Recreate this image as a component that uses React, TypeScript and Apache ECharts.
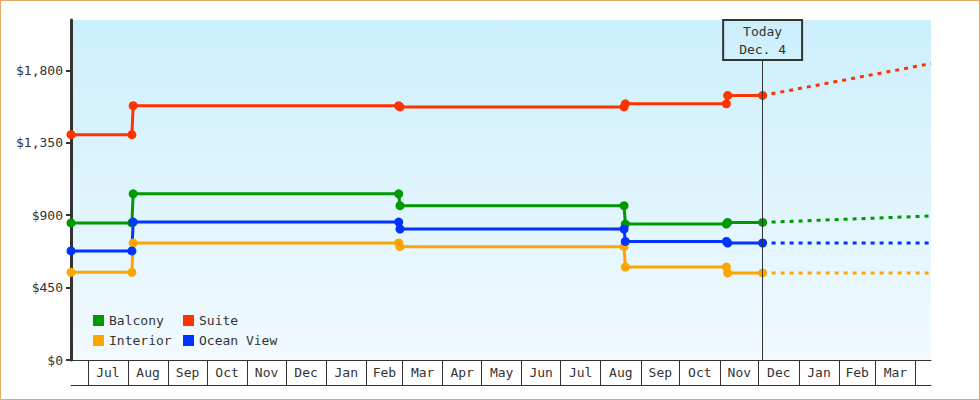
import React, { useEffect, useRef } from "react";
import * as echarts from "echarts";

const FONT = "'DejaVu Sans Mono', monospace";
const TEXT_COLOR = "#333333";

// ---- data ----
const PRICE_DATES = [
  "2012-06-18", "2012-08-04", "2012-08-05", "2013-02-26", "2013-02-27",
  "2013-08-19", "2013-08-20", "2013-11-06", "2013-11-07", "2013-12-04",
];
const balcony = [852, 852, 1033, 1033, 959, 959, 845, 845, 855, 855];
const interior = [545, 545, 727, 727, 704, 704, 578, 578, 541, 541];
const suite = [1400, 1400, 1580, 1580, 1573, 1573, 1592, 1592, 1644, 1644];
const oceanView = [678, 678, 857, 857, 814, 814, 737, 737, 727, 727];

const PROJ_DATES = ["2013-12-04", "2014-04-13"];
const balconyProj = [855, 895];
const interiorProj = [541, 541];
const suiteProj = [1644, 1842];
const oceanViewProj = [727, 727];

const X_MIN = "2012-06-18";
const X_MAX = "2014-04-13";
const TODAY = "2013-12-04";
const TODAY_LABEL = "Today\nDec. 4";

const MONTH_STARTS = [
  "2012-07-01", "2012-08-01", "2012-09-01", "2012-10-01", "2012-11-01", "2012-12-01",
  "2013-01-01", "2013-02-01", "2013-03-01", "2013-04-01", "2013-05-01", "2013-06-01",
  "2013-07-01", "2013-08-01", "2013-09-01", "2013-10-01", "2013-11-01", "2013-12-01",
  "2014-01-01", "2014-02-01", "2014-03-01", "2014-04-01",
];
const MONTH_LABELS = [
  "Jul", "Aug", "Sep", "Oct", "Nov", "Dec", "Jan", "Feb", "Mar", "Apr", "May",
  "Jun", "Jul", "Aug", "Sep", "Oct", "Nov", "Dec", "Jan", "Feb", "Mar",
];

const Y_TICKS = [0, 450, 900, 1350, 1800];
const Y_MAX = 2113;

const COLORS: Record<string, string> = {
  Balcony: "#009900",
  Interior: "#ffa500",
  Suite: "#ff3300",
  "Ocean View": "#0033ff",
};

// ---- helpers ----
const DAY = 86400000;
function ts(s: string): number {
  const [y, m, d] = s.split("-").map(Number);
  return Date.UTC(y, m - 1, d);
}

function pairs(dates: string[], vals: number[]) {
  return dates.map((d, i) => [ts(d), vals[i]]);
}

export default function App() {
  const ref = useRef<HTMLDivElement>(null);

  useEffect(() => {
    if (!ref.current) return;
    const chart = echarts.init(ref.current, undefined, { renderer: "svg" });

    const monthTs = MONTH_STARTS.map(ts);
    const mids = MONTH_LABELS.map((_, i) => (monthTs[i] + monthTs[i + 1]) / 2);
    const labelFor = (v: number) => {
      let best = -1;
      let bestD = Infinity;
      mids.forEach((m, i) => {
        const d = Math.abs(m - v);
        if (d < bestD) {
          bestD = d;
          best = i;
        }
      });
      return best >= 0 && bestD < DAY ? MONTH_LABELS[best] : "";
    };

    const gridHeight = 340;
    const boxHeight = 40;
    const boxBottomValue = Y_MAX * (1 - boxHeight / gridHeight);

    const mainSeries = (name: string, vals: number[], extra: any = {}) => ({
      type: "line",
      name,
      data: pairs(PRICE_DATES, vals),
      color: COLORS[name],
      symbol: "circle",
      symbolSize: 9,
      showSymbol: true,
      showAllSymbol: true,
      lineStyle: { width: 3, color: COLORS[name] },
      itemStyle: { color: COLORS[name] },
      emphasis: { disabled: true },
      silent: true,
      ...extra,
    });
    const projSeries = (name: string, vals: number[]) => ({
      type: "line",
      name,
      data: pairs(PROJ_DATES, vals),
      color: COLORS[name],
      symbol: "none",
      showSymbol: false,
      lineStyle: { width: 3, color: COLORS[name], type: [4, 5] },
      emphasis: { disabled: true },
      silent: true,
    });

    const legendCommon = {
      orient: "vertical",
      padding: 0,
      itemWidth: 11,
      itemHeight: 11,
      itemGap: 7,
      icon: "rect",
      selectedMode: false,
      textStyle: { fontFamily: FONT, fontSize: 13, color: TEXT_COLOR },
      top: 314,
    };

    const xCommon = {
      type: "value",
      min: ts(X_MIN),
      max: ts(X_MAX),
      position: "bottom",
      scale: true,
      splitLine: { show: false },
    };

    chart.setOption({
      animation: false,
      backgroundColor: "transparent",
      grid: {
        left: 71,
        right: 49,
        top: 20,
        height: gridHeight,
        show: true,
        borderWidth: 0,
        backgroundColor: new echarts.graphic.LinearGradient(0, 0, 0, 1, [
          { offset: 0, color: "#ccEFFC" },
          { offset: 1, color: "#F1FAFF" },
        ]),
      },
      legend: [
        { ...legendCommon, left: 93, data: ["Balcony", "Interior"] },
        { ...legendCommon, left: 183, data: ["Suite", "Ocean View"] },
      ],
      xAxis: [
        {
          ...xCommon,
          axisLine: { show: true, onZero: false, lineStyle: { color: TEXT_COLOR, width: 1 } },
          axisTick: {
            show: true,
            customValues: monthTs,
            length: 25,
            lineStyle: { color: TEXT_COLOR, width: 1 },
          },
          axisLabel: {
            show: true,
            customValues: mids,
            formatter: (v: number) => labelFor(Number(v)),
            fontFamily: FONT,
            fontSize: 13,
            color: TEXT_COLOR,
            margin: 6,
          },
        },
        {
          ...xCommon,
          offset: 25,
          axisLine: { show: true, onZero: false, lineStyle: { color: TEXT_COLOR, width: 1 } },
          axisTick: { show: false },
          axisLabel: { show: false },
        },
      ],
      yAxis: {
        type: "value",
        min: 0,
        max: Y_MAX,
        axisLine: { show: true, onZero: false, lineStyle: { color: TEXT_COLOR, width: 3 } },
        axisTick: {
          show: true,
          customValues: Y_TICKS,
          length: 5,
          lineStyle: { color: TEXT_COLOR, width: 2 },
        },
        axisLabel: {
          customValues: Y_TICKS,
          formatter: (v: number) => "$" + Number(v).toLocaleString("en-US"),
          fontFamily: FONT,
          fontSize: 13,
          color: TEXT_COLOR,
          margin: 8,
        },
        splitLine: { show: false },
      },
      series: [
        projSeries("Suite", suiteProj),
        projSeries("Balcony", balconyProj),
        projSeries("Ocean View", oceanViewProj),
        projSeries("Interior", interiorProj),
        mainSeries("Balcony", balcony),
        mainSeries("Interior", interior),
        mainSeries("Ocean View", oceanView),
        mainSeries("Suite", suite, {
          markLine: {
            silent: true,
            symbol: ["none", "none"],
            animation: false,
            lineStyle: { color: TEXT_COLOR, width: 1, type: "solid" },
            emphasis: { disabled: true },
            label: {
              show: true,
              position: "end",
              distance: 0,
              formatter: TODAY_LABEL,
              fontFamily: FONT,
              fontSize: 13,
              color: TEXT_COLOR,
              lineHeight: 18,
              align: "center",
              padding: [2, 16, 2, 16],
              borderColor: TEXT_COLOR,
              borderWidth: 1,
              backgroundColor: "transparent",
            },
            data: [[{ coord: [ts(TODAY), 0] }, { coord: [ts(TODAY), boxBottomValue] }]],
          },
        }),
      ],
    });

    return () => chart.dispose();
  }, []);

  return (
    <div
      style={{
        position: "absolute",
        left: 0,
        top: 0,
        width: 980,
        height: 400,
        boxSizing: "border-box",
        border: "1px solid #e8a965",
        background: "#ffffff",
      }}
    >
      <div ref={ref} style={{ position: "absolute", left: -1, top: -1, width: 980, height: 400 }} />
    </div>
  );
}
